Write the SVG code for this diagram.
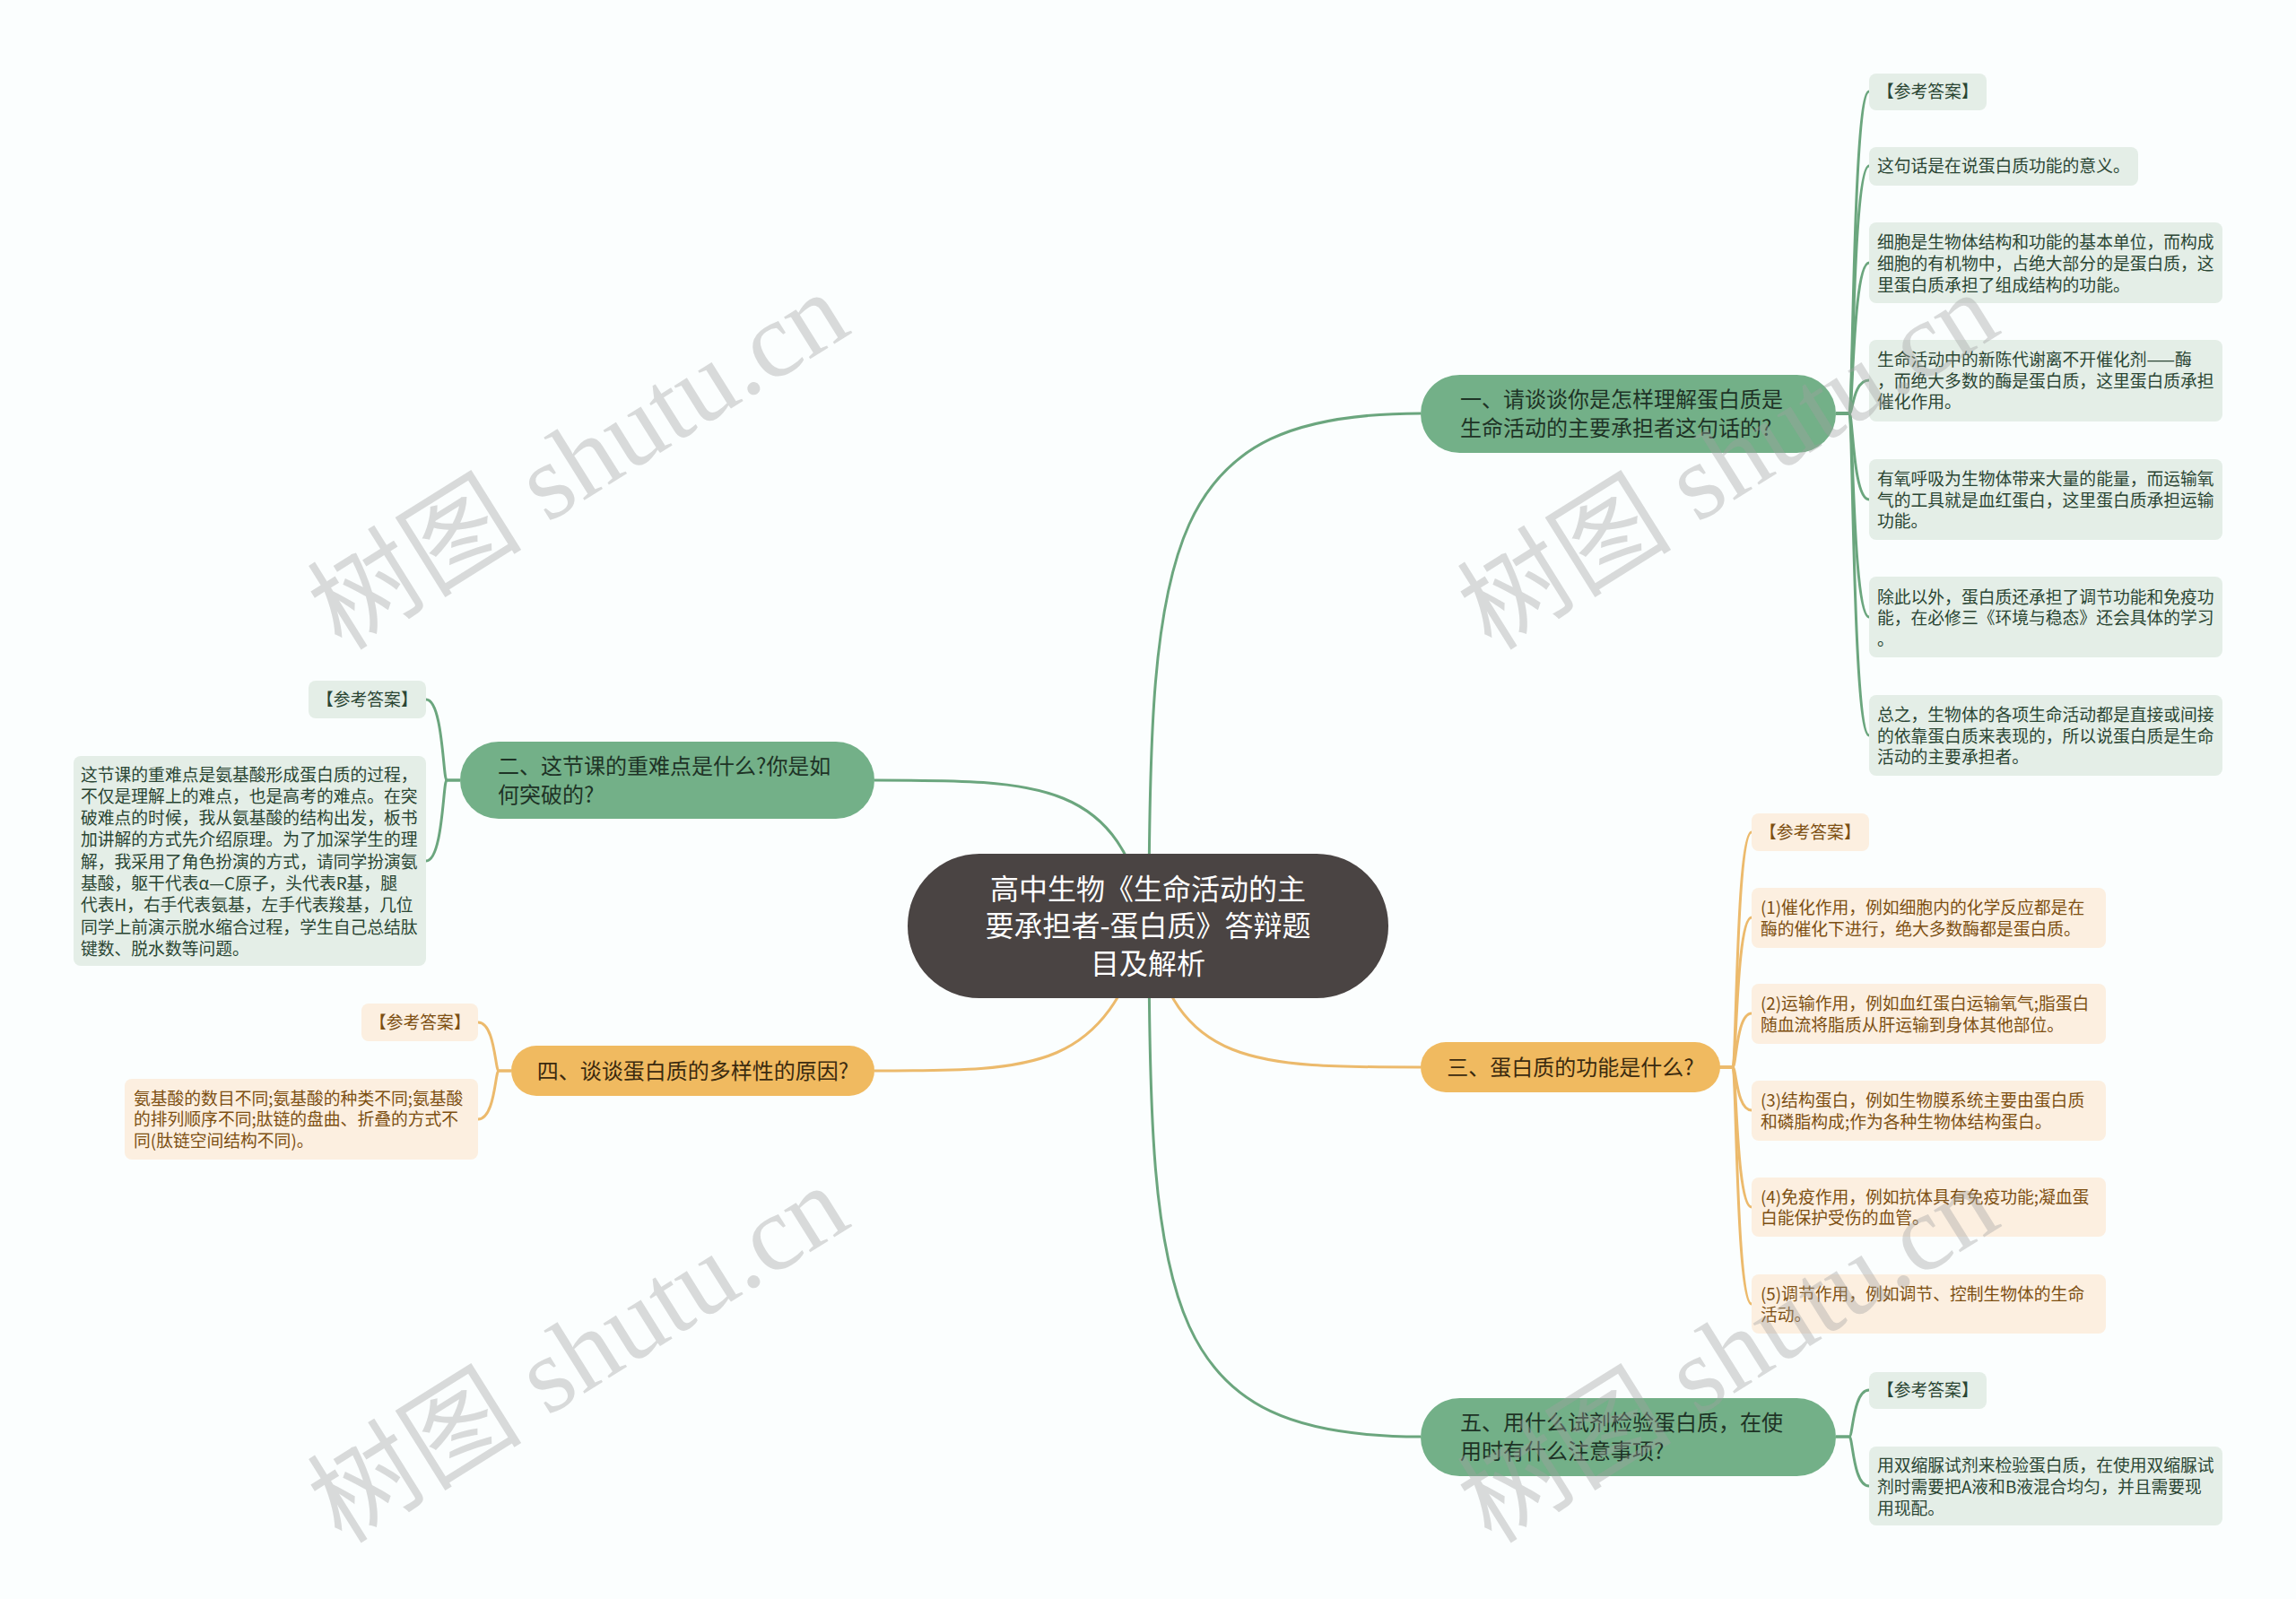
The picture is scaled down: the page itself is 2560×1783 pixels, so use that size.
<svg xmlns="http://www.w3.org/2000/svg" width="2560" height="1783" viewBox="0 0 2560 1783">
<style>
text{font-family:"Noto Sans CJK SC","Liberation Sans",sans-serif;dominant-baseline:central}
.rt,.gbt,.obt,.glt,.olt{transform:translateY(-2px)}
.root{fill:#4a4443}
.rt{fill:#ffffff;font-size:32px;text-anchor:middle}
.gb{fill:#73b088}
.gbt{fill:#1e3326;font-size:24px}
.ob{fill:#f0ba60}
.obt{fill:#3b2a0f;font-size:24px}
.gl{fill:#e4eee7}
.glt{fill:#2a4533;font-size:18.8px}
.ol{fill:#fcefe0}
.olt{fill:#7d4f12;font-size:18.8px}
.cg{fill:none;stroke:#6ba67e;stroke-width:3}
.co{fill:none;stroke:#ecba6c;stroke-width:3}
.wm{font-family:"Liberation Serif","Noto Sans CJK SC",serif;font-size:120px;fill:#a0a0a0;fill-opacity:0.38;text-anchor:middle}
</style>
<rect x="0" y="0" width="2560" height="1783" fill="#fbfefe"/>
<g id="connectors">
<path class="cg" d="M1281 1032 C1281 600 1300 461 1584 461"/>
<path class="cg" d="M1281 1032 C1281 1464 1300 1602 1584 1602"/>
<path class="co" d="M1280 1032 C1310 1190 1400 1190 1584 1190"/>
<path class="co" d="M1280 1032 C1230 1194 1160 1194 975 1194"/>
<path class="cg" d="M1280 1032 C1250 870 1160 870 975 870"/>
<path class="cg" d="M2047 461 L2062 461 C2066 461 2066 102 2084 102"/>
<path class="cg" d="M2047 461 L2062 461 C2066 461 2066 185 2084 185"/>
<path class="cg" d="M2047 461 L2062 461 C2066 461 2066 293 2084 293"/>
<path class="cg" d="M2047 461 L2062 461 C2066 461 2066 424 2084 424"/>
<path class="cg" d="M2047 461 L2062 461 C2066 461 2066 557 2084 557"/>
<path class="cg" d="M2047 461 L2062 461 C2066 461 2066 688 2084 688"/>
<path class="cg" d="M2047 461 L2062 461 C2066 461 2066 820 2084 820"/>
<path class="co" d="M1917 1190 L1932 1190 C1936 1190 1936 928 1953 928"/>
<path class="co" d="M1917 1190 L1932 1190 C1936 1190 1936 1023 1953 1023"/>
<path class="co" d="M1917 1190 L1932 1190 C1936 1190 1936 1130 1953 1130"/>
<path class="co" d="M1917 1190 L1932 1190 C1936 1190 1936 1238 1953 1238"/>
<path class="co" d="M1917 1190 L1932 1190 C1936 1190 1936 1346 1953 1346"/>
<path class="co" d="M1917 1190 L1932 1190 C1936 1190 1936 1454 1953 1454"/>
<path class="cg" d="M2047 1602 L2062 1602 C2066 1602 2066 1550 2084 1550"/>
<path class="cg" d="M2047 1602 L2062 1602 C2066 1602 2066 1657 2084 1657"/>
<path class="cg" d="M513 870 L498 870 C494 870 494 780 475 780"/>
<path class="cg" d="M513 870 L498 870 C494 870 494 960 475 960"/>
<path class="co" d="M570 1194 L556 1194 C552 1194 552 1140 533 1140"/>
<path class="co" d="M570 1194 L556 1194 C552 1194 552 1248 533 1248"/>
</g>
<g id="root">
<rect class="root" x="1012" y="952" width="536" height="161" rx="80"/>
<text class="rt" x="1280" y="991">高中生物《生命活动的主</text>
<text class="rt" x="1280" y="1032">要承担者-蛋白质》答辩题</text>
<text class="rt" x="1280" y="1074">目及解析</text>
</g>
<g id="b1">
<rect class="gb" x="1584" y="418" width="463" height="87" rx="43.5"/>
<text class="gbt" x="1628" y="445">一、请谈谈你是怎样理解蛋白质是</text>
<text class="gbt" x="1628" y="477">生命活动的主要承担者这句话的?</text>
</g>
<g id="b1-1">
<rect class="gl" x="2084" y="82" width="131" height="41" rx="8"/>
<text class="glt" x="2093" y="102.5">【参考答案】</text>
</g>
<g id="b1-2">
<rect class="gl" x="2084" y="164" width="300" height="43" rx="8"/>
<text class="glt" x="2093" y="185.5">这句话是在说蛋白质功能的意义。</text>
</g>
<g id="b1-3">
<rect class="gl" x="2084" y="248" width="394" height="90" rx="8"/>
<text class="glt" x="2093" y="270">细胞是生物体结构和功能的基本单位，而构成</text>
<text class="glt" x="2093" y="294">细胞的有机物中，占绝大部分的是蛋白质，这</text>
<text class="glt" x="2093" y="318">里蛋白质承担了组成结构的功能。</text>
</g>
<g id="b1-4">
<rect class="gl" x="2084" y="379" width="394" height="91" rx="8"/>
<text class="glt" x="2093" y="401.5">生命活动中的新陈代谢离不开催化剂——酶</text>
<text class="glt" x="2093" y="425">，而绝大多数的酶是蛋白质，这里蛋白质承担</text>
<text class="glt" x="2093" y="448.5">催化作用。</text>
</g>
<g id="b1-5">
<rect class="gl" x="2084" y="512" width="394" height="90" rx="8"/>
<text class="glt" x="2093" y="534.5">有氧呼吸为生物体带来大量的能量，而运输氧</text>
<text class="glt" x="2093" y="558">气的工具就是血红蛋白，这里蛋白质承担运输</text>
<text class="glt" x="2093" y="581.5">功能。</text>
</g>
<g id="b1-6">
<rect class="gl" x="2084" y="643" width="394" height="90" rx="8"/>
<text class="glt" x="2093" y="666">除此以外，蛋白质还承担了调节功能和免疫功</text>
<text class="glt" x="2093" y="689.5">能，在必修三《环境与稳态》还会具体的学习</text>
<text class="glt" x="2093" y="713">。</text>
</g>
<g id="b1-7">
<rect class="gl" x="2084" y="775" width="394" height="90" rx="8"/>
<text class="glt" x="2093" y="797.5">总之，生物体的各项生命活动都是直接或间接</text>
<text class="glt" x="2093" y="821">的依靠蛋白质来表现的，所以说蛋白质是生命</text>
<text class="glt" x="2093" y="844.5">活动的主要承担者。</text>
</g>
<g id="b2">
<rect class="gb" x="513" y="827" width="462" height="86" rx="43"/>
<text class="gbt" x="555" y="854">二、这节课的重难点是什么?你是如</text>
<text class="gbt" x="555" y="886">何突破的?</text>
</g>
<g id="b2-1">
<rect class="gl" x="344" y="759" width="131" height="42" rx="8"/>
<text class="glt" x="353" y="780">【参考答案】</text>
</g>
<g id="b2-2">
<rect class="gl" x="82" y="843" width="393" height="234" rx="8"/>
<text class="glt" x="90" y="864">这节课的重难点是氨基酸形成蛋白质的过程，</text>
<text class="glt" x="90" y="888.3">不仅是理解上的难点，也是高考的难点。在突</text>
<text class="glt" x="90" y="912.6">破难点的时候，我从氨基酸的结构出发，板书</text>
<text class="glt" x="90" y="936.9">加讲解的方式先介绍原理。为了加深学生的理</text>
<text class="glt" x="90" y="961.2">解，我采用了角色扮演的方式，请同学扮演氨</text>
<text class="glt" x="90" y="985.5">基酸，躯干代表α—C原子，头代表R基，腿</text>
<text class="glt" x="90" y="1009.8">代表H，右手代表氨基，左手代表羧基，几位</text>
<text class="glt" x="90" y="1034.1">同学上前演示脱水缩合过程，学生自己总结肽</text>
<text class="glt" x="90" y="1058.4">键数、脱水数等问题。</text>
</g>
<g id="b3">
<rect class="ob" x="1584" y="1162" width="334" height="56" rx="28"/>
<text class="obt" x="1751" y="1190" text-anchor="middle">三、蛋白质的功能是什么?</text>
</g>
<g id="b3-1">
<rect class="ol" x="1953" y="907" width="131" height="42" rx="8"/>
<text class="olt" x="1962" y="928">【参考答案】</text>
</g>
<g id="b3-2">
<rect class="ol" x="1953" y="990" width="395" height="67" rx="8"/>
<text class="olt" x="1963" y="1012">(1)催化作用，例如细胞内的化学反应都是在</text>
<text class="olt" x="1963" y="1036">酶的催化下进行，绝大多数酶都是蛋白质。</text>
</g>
<g id="b3-3">
<rect class="ol" x="1953" y="1097" width="395" height="67" rx="8"/>
<text class="olt" x="1963" y="1119">(2)运输作用，例如血红蛋白运输氧气;脂蛋白</text>
<text class="olt" x="1963" y="1143">随血流将脂质从肝运输到身体其他部位。</text>
</g>
<g id="b3-4">
<rect class="ol" x="1953" y="1205" width="395" height="67" rx="8"/>
<text class="olt" x="1963" y="1227">(3)结构蛋白，例如生物膜系统主要由蛋白质</text>
<text class="olt" x="1963" y="1251">和磷脂构成;作为各种生物体结构蛋白。</text>
</g>
<g id="b3-5">
<rect class="ol" x="1953" y="1313" width="395" height="66" rx="8"/>
<text class="olt" x="1963" y="1335">(4)免疫作用，例如抗体具有免疫功能;凝血蛋</text>
<text class="olt" x="1963" y="1358.5">白能保护受伤的血管。</text>
</g>
<g id="b3-6">
<rect class="ol" x="1953" y="1421" width="395" height="66" rx="8"/>
<text class="olt" x="1963" y="1443">(5)调节作用，例如调节、控制生物体的生命</text>
<text class="olt" x="1963" y="1466.5">活动。</text>
</g>
<g id="b4">
<rect class="ob" x="570" y="1166" width="405" height="56" rx="28"/>
<text class="obt" x="772.5" y="1194" text-anchor="middle">四、谈谈蛋白质的多样性的原因?</text>
</g>
<g id="b4-1">
<rect class="ol" x="403" y="1119" width="130" height="42" rx="8"/>
<text class="olt" x="412" y="1140">【参考答案】</text>
</g>
<g id="b4-2">
<rect class="ol" x="139" y="1203" width="394" height="90" rx="8"/>
<text class="olt" x="149" y="1225">氨基酸的数目不同;氨基酸的种类不同;氨基酸</text>
<text class="olt" x="149" y="1248.5">的排列顺序不同;肽链的盘曲、折叠的方式不</text>
<text class="olt" x="149" y="1272">同(肽链空间结构不同)。</text>
</g>
<g id="b5">
<rect class="gb" x="1584" y="1559" width="463" height="87" rx="43.5"/>
<text class="gbt" x="1628" y="1586">五、用什么试剂检验蛋白质，在使</text>
<text class="gbt" x="1628" y="1618">用时有什么注意事项?</text>
</g>
<g id="b5-1">
<rect class="gl" x="2084" y="1530" width="131" height="41" rx="8"/>
<text class="glt" x="2093" y="1550.5">【参考答案】</text>
</g>
<g id="b5-2">
<rect class="gl" x="2084" y="1613" width="394" height="88" rx="8"/>
<text class="glt" x="2093" y="1634">用双缩脲试剂来检验蛋白质，在使用双缩脲试</text>
<text class="glt" x="2093" y="1658">剂时需要把A液和B液混合均匀，并且需要现</text>
<text class="glt" x="2093" y="1682">用现配。</text>
</g>
<g id="watermarks">
<text class="wm" x="645" y="514" transform="rotate(-32 645 514)">树图 shutu.cn</text>
<text class="wm" x="1927" y="514" transform="rotate(-32 1927 514)">树图 shutu.cn</text>
<text class="wm" x="645" y="1510" transform="rotate(-32 645 1510)">树图 shutu.cn</text>
<text class="wm" x="1927" y="1510" transform="rotate(-32 1927 1510)">树图 shutu.cn</text>
</g>
</svg>
